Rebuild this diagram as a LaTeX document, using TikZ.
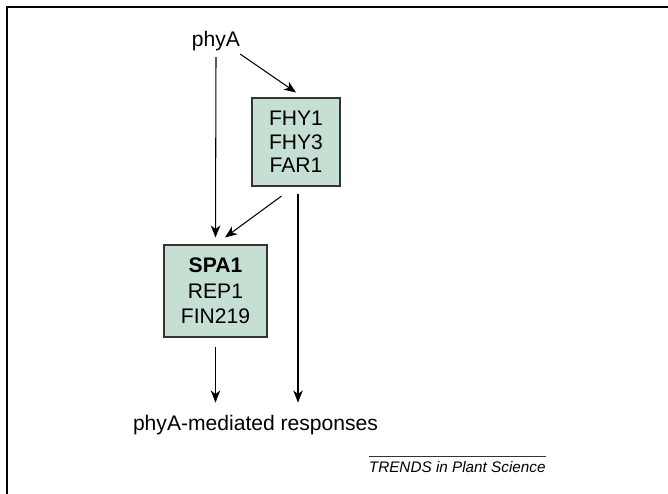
\documentclass[tikz,border=0pt]{standalone}
\usepackage{fontspec}
\setmainfont{Liberation Sans}
\usetikzlibrary{arrows.meta}
\definecolor{boxgreen}{RGB}{197,224,210}

\begin{document}
\begin{tikzpicture}[
    font=\fontsize{12}{13.4}\selectfont,
    box/.style={draw=black!80, line width=0.6pt, fill=boxgreen, align=center, inner sep=2pt},
    arr/.style={line width=0.6pt, -{Stealth[length=0.24cm,width=0.19cm,inset=0.07cm]}}
]
    % Page size and frame
    \useasboundingbox (0,0) rectangle (13.36,-9.86);
    \draw[line width=1.1pt] (0.146,-9.9) -- (0.146,-0.14) -- (13.4,-0.14);

    % Nodes
    \node[anchor=base] (phyA) at (4.32,-0.93) {phyA};
    \node[box, minimum width=1.76cm, minimum height=1.76cm] (fhy) at (5.92,-2.84) {FHY1\\FHY3\\FAR1};
    \node[box, minimum width=2.06cm, minimum height=1.84cm] (spa) at (4.31,-5.82) {\textbf{SPA1}\\[1.4pt]REP1\\[1pt]FIN219};
    \node[anchor=base] (resp) at (5.11,-8.6) {phyA-mediated responses};

    % Arrows
    \draw[arr] (phyA.south) -- ([yshift=0.14cm]spa.north);
    \draw[arr] ([xshift=-0.12cm,yshift=0.06cm]phyA.south east) -- ([yshift=0.1cm]fhy.north);
    \draw[arr] ([xshift=-0.29cm,yshift=-0.19cm]fhy.south) -- ([xshift=0.19cm,yshift=0.14cm]spa.north);
    \draw[arr] ([xshift=0.04cm,yshift=-0.14cm]fhy.south) -- ([xshift=0.04cm,yshift=0.12cm]fhy.south |- resp.north);
    \draw[arr] ([yshift=-0.18cm]spa.south) -- ([yshift=0.12cm]spa.south |- resp.north);

    % Journal label
    \node[anchor=base east, inner sep=0pt, font=\fontsize{8.7}{10}\selectfont\itshape] (trends) at (10.92,-9.45) {TRENDS in Plant Science};
    \draw[black!80, line width=0.5pt] ([yshift=0.1cm]trends.north west) -- ([yshift=0.1cm]trends.north east);
\end{tikzpicture}
\end{document}
